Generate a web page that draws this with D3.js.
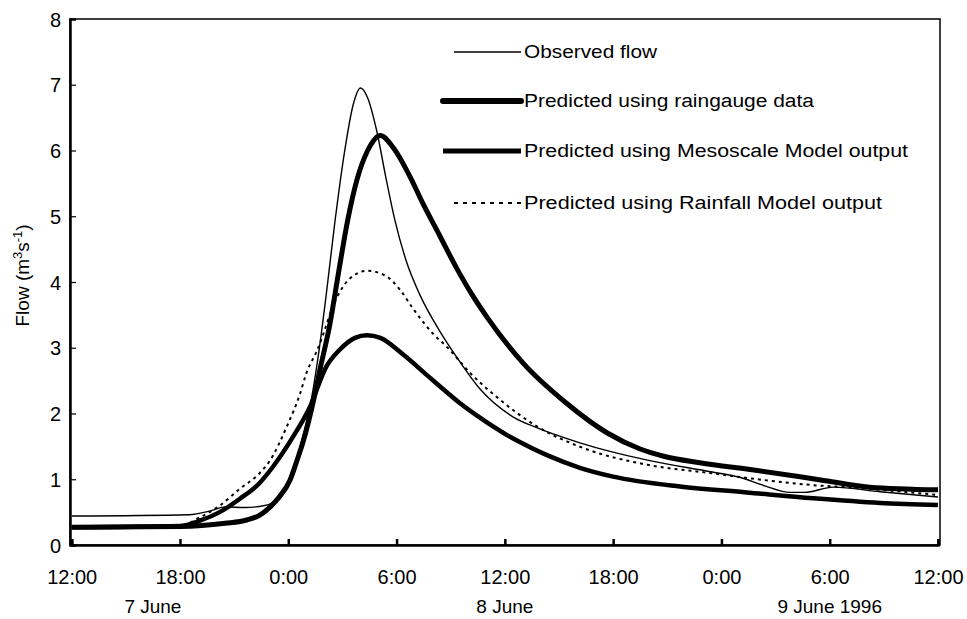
<!DOCTYPE html>
<html>
<head>
<meta charset="utf-8">
<script src="https://cdn.jsdelivr.net/npm/d3@7"></script>
<style>
  body { margin: 0; background: #fff; }
  svg { display: block; }
  text { font-family: "Liberation Sans", Arial, sans-serif; fill: #000; }
</style>
</head>
<body>
<svg id="chart"></svg>
<script>
// hours counted from 7 June 12:00, flow in m3/s
const observed = [
  [0, 0.44], [6.5, 0.46], [7.7, 0.52], [8.5, 0.58], [9.6, 0.57], [10.7, 0.6],
  [11.4, 0.7], [12.0, 0.95], [12.5, 1.35], [12.9, 1.75], [13.3, 2.25], [13.7, 2.95],
  [14.1, 3.8], [14.6, 4.95], [15.1, 5.95], [15.6, 6.7], [16.0, 6.95], [16.4, 6.8],
  [16.9, 6.3], [17.4, 5.6], [17.9, 4.95], [18.5, 4.35], [19.3, 3.8], [20.4, 3.25],
  [21.35, 2.85], [22.6, 2.38], [24.45, 1.95], [25.8, 1.78], [28.2, 1.55], [31.9, 1.29],
  [35.5, 1.11], [37.0, 1.03], [38.4, 0.9], [39.8, 0.8], [40.6, 0.8], [42.2, 0.88],
  [44.8, 0.81], [48, 0.73]
];
const raingauge = [
  [0, 0.27], [6, 0.28], [8.5, 0.33], [9.7, 0.38], [10.4, 0.45], [11.0, 0.58],
  [11.5, 0.73], [12.1, 0.99], [12.5, 1.3], [12.8, 1.55], [13.4, 2.2], [13.75, 2.66],
  [14.3, 3.35], [14.85, 4.25], [15.3, 4.95], [15.8, 5.55], [16.4, 6.0], [17.1, 6.23],
  [17.8, 6.05], [18.75, 5.6], [19.45, 5.2], [20.4, 4.7], [21.35, 4.2], [22.2, 3.8],
  [23.0, 3.47], [25.0, 2.77], [27.4, 2.16], [29.7, 1.7], [31.5, 1.46], [32.8, 1.35],
  [34.8, 1.25], [37.8, 1.14], [41.5, 0.99], [44.2, 0.88], [48, 0.84]
];
const mesoscale = [
  [0, 0.27], [6, 0.29], [7.1, 0.37], [8.2, 0.5], [9.3, 0.7], [10.4, 0.94],
  [11.15, 1.19], [12.25, 1.64], [13.2, 2.1], [14.1, 2.71], [14.85, 2.97], [15.7, 3.15],
  [16.35, 3.19], [17.1, 3.15], [18.35, 2.9], [19.7, 2.58], [20.8, 2.32], [21.5, 2.16],
  [22.6, 1.94], [23.95, 1.7], [24.8, 1.57], [26.3, 1.37], [28.2, 1.17], [30.0, 1.04],
  [33.7, 0.89], [37.4, 0.8], [41.1, 0.71], [44.8, 0.64], [48, 0.61]
];
const rainfallModel = [
  [0, 0.27], [6, 0.3], [7.1, 0.42], [8.2, 0.6], [9.3, 0.85], [10.4, 1.09],
  [11.0, 1.29], [11.9, 1.79], [12.65, 2.3], [13.0, 2.61], [13.6, 2.96], [14.7, 3.77],
  [15.4, 4.05], [16.35, 4.17], [17.35, 4.1], [18.2, 3.88], [18.9, 3.6], [20.0, 3.22],
  [20.8, 3.01], [22.1, 2.61], [23.55, 2.25], [25.8, 1.8], [28.2, 1.49], [31.9, 1.22],
  [35.5, 1.09], [38.3, 0.99], [41.1, 0.91], [42.9, 0.88], [48, 0.76]
];

const xTicks = [0, 6, 12, 18, 24, 30, 36, 42, 48];
const xTickLabels = ["12:00", "18:00", "0:00", "6:00", "12:00", "18:00", "0:00", "6:00", "12:00"];
const yTicks = [0, 1, 2, 3, 4, 5, 6, 7, 8];
const dayLabels = ["7 June", "8 June", "9 June 1996"];
const dayHours = [4.5, 24, 42];

const series = [
  { name: "Observed flow", data: observed, width: 1.4, dash: null, legW: 1.5, textLen: 133 },
  { name: "Predicted using raingauge data", data: raingauge, width: 5, dash: null, legW: 6, textLen: 290 },
  { name: "Predicted using Mesoscale Model output", data: mesoscale, width: 4.5, dash: null, legW: 5, textLen: 384 },
  { name: "Predicted using Rainfall Model output", data: rainfallModel, width: 2, dash: "3,4", legW: 2, textLen: 358 }
];

const W = 967, H = 619;
const svg = d3.select("#chart").attr("width", W).attr("height", H);

const x = d3.scaleLinear().domain([0, 48]).range([71.7, 938]);
const y = d3.scaleLinear().domain([0, 8]).range([545, 19]);

// frame
svg.append("rect")
  .attr("x", 70).attr("y", y(8))
  .attr("width", 940 - 70).attr("height", y(0) - y(8))
  .attr("fill", "none").attr("stroke", "#000").attr("stroke-width", 1.5);

// x axis, ticks pointing inward
const xAxis = svg.append("g")
  .attr("transform", `translate(0,${y(0)})`)
  .call(d3.axisBottom(x).tickValues(xTicks).tickSize(-6).tickPadding(0)
    .tickFormat((d, i) => xTickLabels[i]));
xAxis.select(".domain").attr("stroke-width", 2.5);
xAxis.selectAll(".tick line").attr("stroke-width", 2.5);
xAxis.selectAll(".tick text")
  .attr("y", 39).attr("dy", 0)
  .style("font-size", "20px").style("font-family", "Liberation Sans, Arial, sans-serif");

// y axis
const yAxis = svg.append("g")
  .attr("transform", "translate(70,0)")
  .call(d3.axisLeft(y).tickValues(yTicks).tickSize(-6).tickPadding(0));
yAxis.select(".domain").attr("stroke-width", 2.5);
yAxis.selectAll(".tick line").attr("stroke-width", 1.2);
yAxis.selectAll(".tick text")
  .attr("x", -9).attr("dy", "0.35em")
  .style("font-size", "20px").style("font-family", "Liberation Sans, Arial, sans-serif");

// day labels
svg.selectAll(".day")
  .data(dayLabels)
  .join("text")
  .attr("class", "day")
  .attr("x", (d, i) => x(dayHours[i]))
  .attr("y", 613)
  .attr("text-anchor", "middle")
  .style("font-size", "19px")
  .text(d => d);

// y title
const yt = svg.append("text")
  .attr("transform", `translate(29,${y(4.1)}) rotate(-90)`)
  .attr("text-anchor", "middle")
  .style("font-size", "19px");
yt.append("tspan").text("Flow (m");
yt.append("tspan").attr("baseline-shift", "super").style("font-size", "13px").text("3");
yt.append("tspan").text("s");
yt.append("tspan").attr("baseline-shift", "super").style("font-size", "13px").text("-1");
yt.append("tspan").text(")");

// curves
const line = d3.line()
  .x(d => x(d[0]))
  .y(d => y(d[1]))
  .curve(d3.curveMonotoneX);

svg.append("g").selectAll("path")
  .data(series)
  .join("path")
  .attr("d", d => line(d.data))
  .attr("fill", "none")
  .attr("stroke", "#000")
  .attr("stroke-width", d => d.width)
  .attr("stroke-dasharray", d => d.dash)
  .attr("stroke-linejoin", "round");

// legend
const legRows = [52, 101, 151, 203];
const leg = svg.append("g").selectAll("g")
  .data(series)
  .join("g")
  .attr("transform", (d, i) => `translate(0,${legRows[i]})`);

leg.append("line")
  .attr("x1", (d, i) => i === 1 || i === 2 ? 443 : 454)
  .attr("x2", 521)
  .attr("stroke", "#000")
  .attr("stroke-width", d => d.legW)
  .attr("stroke-dasharray", d => d.dash ? "4,5" : null)
  .attr("stroke-linecap", (d, i) => i === 1 ? "round" : "butt");

leg.append("text")
  .attr("x", 524)
  .attr("dy", "0.35em")
  .attr("textLength", d => d.textLen)
  .attr("lengthAdjust", "spacingAndGlyphs")
  .style("font-size", "18px")
  .text(d => d.name);
</script>
</body>
</html>
